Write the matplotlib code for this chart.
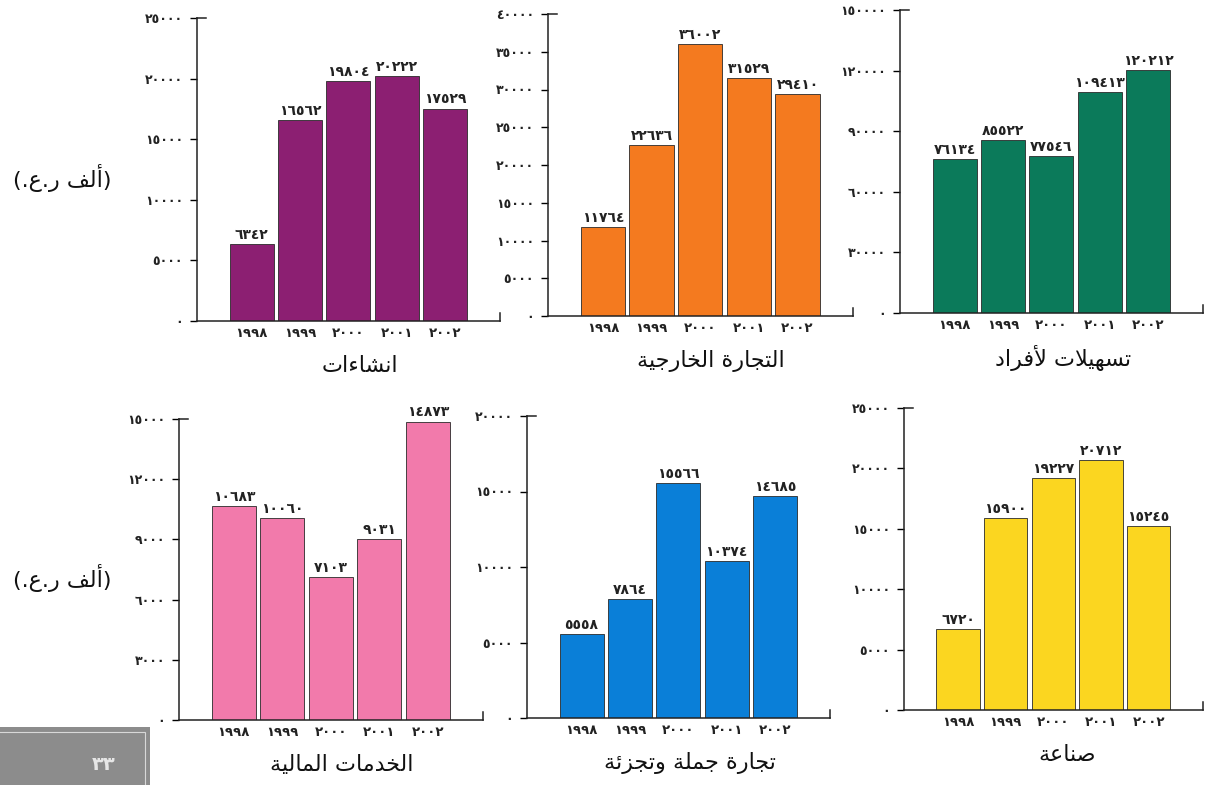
import matplotlib
matplotlib.use("Agg")
import matplotlib.pyplot as plt
from matplotlib.ticker import FuncFormatter, MultipleLocator
from matplotlib.patches import Rectangle

plt.rcParams["font.family"] = ["DejaVu Sans"]

YEARS = ["1998", "1999", "2000", "2001", "2002"]

construction = [6342, 16562, 19804, 20222, 17529]
foreign_trade = [11764, 22636, 36002, 31529, 29410]
personal_loans = [76134, 85522, 77546, 109413, 120212]
financial = [10683, 10060, 7103, 9031, 14873]
wholesale = [5558, 7864, 15566, 10374, 14685]
industry = [6720, 15900, 19227, 20712, 15245]

TITLES = ["انشاءات", "التجارة الخارجية", "تسهيلات لأفراد",
          "الخدمات المالية", "تجارة جملة وتجزئة", "صناعة"]
Y_UNIT = "(ألف ر.ع.)"
PAGE_NO = "33"

# (values, ymax, ystep, colour, axes box in px: axis x, right end, top y, zero y)
PANELS = [
    (construction, 25000, 5000, "#8c1f72", (197, 500, 18, 321)),
    (foreign_trade, 40000, 5000, "#f47a1f", (548, 853, 14, 316)),
    (personal_loans, 150000, 30000, "#0b7a5a", (900, 1203, 10, 313)),
    (financial, 15000, 3000, "#f27aab", (179, 483, 419, 720)),
    (wholesale, 20000, 5000, "#0a7fd8", (527, 830, 416, 718)),
    (industry, 25000, 5000, "#fbd620", (904, 1203, 408, 710)),
]

W, H = 1205, 785

# --- minimal Arabic shaping (presentation forms + visual order) ---
FORMS = {
    "\u0621": ("\uFE80", None, None, None),
    "\u0623": ("\uFE83", "\uFE84", None, None),
    "\u0626": ("\uFE89", "\uFE8A", "\uFE8B", "\uFE8C"),
    "\u0627": ("\uFE8D", "\uFE8E", None, None),
    "\u0629": ("\uFE93", "\uFE94", None, None),
    "\u062A": ("\uFE95", "\uFE96", "\uFE97", "\uFE98"),
    "\u062C": ("\uFE9D", "\uFE9E", "\uFE9F", "\uFEA0"),
    "\u062E": ("\uFEA5", "\uFEA6", "\uFEA7", "\uFEA8"),
    "\u062F": ("\uFEA9", "\uFEAA", None, None),
    "\u0631": ("\uFEAD", "\uFEAE", None, None),
    "\u0632": ("\uFEAF", "\uFEB0", None, None),
    "\u0633": ("\uFEB1", "\uFEB2", "\uFEB3", "\uFEB4"),
    "\u0634": ("\uFEB5", "\uFEB6", "\uFEB7", "\uFEB8"),
    "\u0635": ("\uFEB9", "\uFEBA", "\uFEBB", "\uFEBC"),
    "\u0639": ("\uFEC9", "\uFECA", "\uFECB", "\uFECC"),
    "\u0641": ("\uFED1", "\uFED2", "\uFED3", "\uFED4"),
    "\u0644": ("\uFEDD", "\uFEDE", "\uFEDF", "\uFEE0"),
    "\u0645": ("\uFEE1", "\uFEE2", "\uFEE3", "\uFEE4"),
    "\u0646": ("\uFEE5", "\uFEE6", "\uFEE7", "\uFEE8"),
    "\u0647": ("\uFEE9", "\uFEEA", "\uFEEB", "\uFEEC"),
    "\u0648": ("\uFEED", "\uFEEE", None, None),
    "\u064A": ("\uFEF1", "\uFEF2", "\uFEF3", "\uFEF4"),
}
LAM_ALEF = {"\u0627": ("\uFEFB", "\uFEFC"), "\u0623": ("\uFEF7", "\uFEF8")}


def shape(text):
    chars = []
    i = 0
    while i < len(text):
        c = text[i]
        if c == "\u0644" and i + 1 < len(text) and text[i + 1] in LAM_ALEF:
            chars.append(("LA", text[i + 1]))
            i += 2
        else:
            chars.append(c)
            i += 1

    def joins_next(c):
        if isinstance(c, tuple):
            return False
        f = FORMS.get(c)
        return f is not None and f[2] is not None

    def joins_prev(c):
        if isinstance(c, tuple):
            return True
        f = FORMS.get(c)
        return f is not None and f[1] is not None

    out = []
    for k, c in enumerate(chars):
        pj = k > 0 and joins_next(chars[k - 1]) and joins_prev(c)
        nj = k + 1 < len(chars) and joins_next(c) and joins_prev(chars[k + 1])
        if isinstance(c, tuple):
            out.append(LAM_ALEF[c[1]][1 if pj else 0])
        elif c in FORMS:
            iso, fin, ini, med = FORMS[c]
            out.append(med if (pj and nj) else fin if pj else ini if nj else iso)
        else:
            out.append(c)
    mirror = {"(": ")", ")": "("}
    return "".join(mirror.get(ch, ch) for ch in reversed(out))


def ar_digits(s):
    return str(s).translate(str.maketrans("0123456789", "٠١٢٣٤٥٦٧٨٩"))


fig = plt.figure(figsize=(W / 100, H / 100), dpi=100)
fig.patch.set_facecolor("white")

for (values, ymax, ystep, color, box), title in zip(PANELS, TITLES):
    x0, x1, ytop, yzero = box
    ax = fig.add_axes([x0 / W, 1 - yzero / H, (x1 - x0) / W, (yzero - ytop) / H])
    xs = list(range(len(YEARS)))
    ax.bar(xs, values, width=0.91, color=color, edgecolor="#2a2a2a", linewidth=0.6)
    for x, v in zip(xs, values):
        ax.annotate(ar_digits(v), (x, v), xytext=(0, 1.5), textcoords="offset points",
                    ha="center", va="bottom", fontsize=10, fontweight="bold", color="#222")
    ax.set_xlim(-1.13, 5.14)
    ax.set_ylim(0, ymax)
    ax.yaxis.set_major_locator(MultipleLocator(ystep))
    ax.yaxis.set_major_formatter(FuncFormatter(lambda v, p: ar_digits(int(round(v)))))
    ax.set_xticks(xs)
    ax.set_xticklabels([ar_digits(y) for y in YEARS])
    ax.tick_params(axis="x", length=0, pad=4, labelsize=9.5)
    ax.tick_params(axis="y", direction="out", length=5, width=1, pad=5, labelsize=9)
    for lbl in ax.get_xticklabels() + ax.get_yticklabels():
        lbl.set_fontweight("bold")
        lbl.set_color("#222")
    for side in ["top", "right"]:
        ax.spines[side].set_visible(False)
    for side in ["left", "bottom"]:
        ax.spines[side].set_linewidth(1.1)
        ax.spines[side].set_color("#222")
    ax.patch.set_alpha(0)
    # top cap and right-end upturn of the axes
    ax.plot([0, 0.03], [1, 1], transform=ax.transAxes, color="#222", lw=1.1, clip_on=False)
    ax.plot([1, 1], [0, 0.025], transform=ax.transAxes, color="#222", lw=1.1, clip_on=False)
    fig.text((x0 + 163) / W, 1 - (yzero + 45) / H, shape(title), ha="center", va="center",
             fontsize=16, color="#111")

for yc in (178, 578):
    fig.text(62 / W, 1 - yc / H, shape(Y_UNIT), ha="center", va="center", fontsize=16, color="#111")

fig.patches.append(Rectangle((0, 0), 150 / W, 58 / H, transform=fig.transFigure,
                             facecolor="#8c8c8c", edgecolor="none"))
fig.patches.append(Rectangle((-0.01, -0.01), 145 / W + 0.01, 53 / H + 0.01, transform=fig.transFigure,
                             facecolor="none", edgecolor="#d8d8d8", lw=0.8))
fig.text(104 / W, 1 - 764 / H, ar_digits(PAGE_NO), ha="center", va="center",
         fontsize=14, color="#e6e6e6", fontweight="bold")

fig.savefig("out.png", dpi=100)
